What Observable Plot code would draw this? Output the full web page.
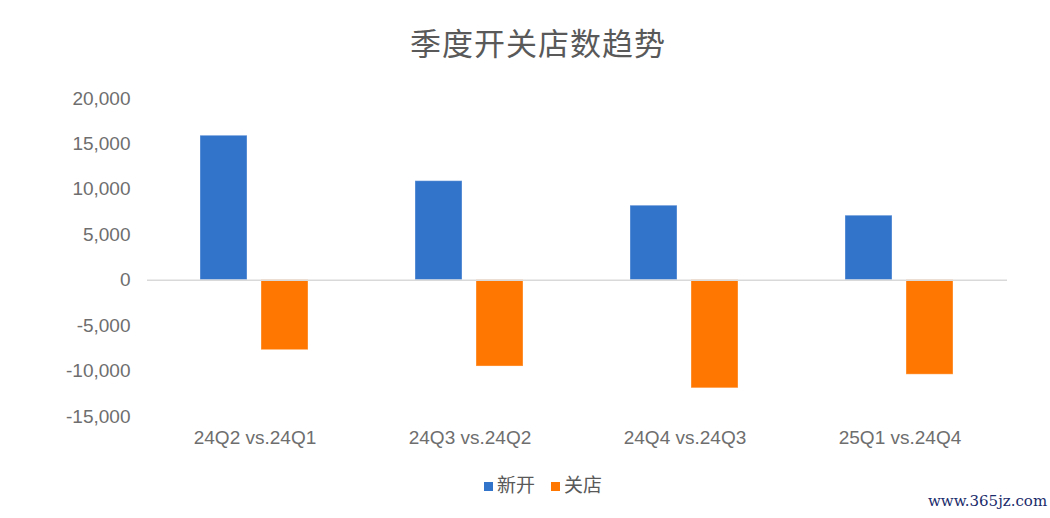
<!DOCTYPE html>
<html>
<head>
<meta charset="utf-8">
<script src="https://cdn.jsdelivr.net/npm/d3@7"></script>
<script src="https://cdn.jsdelivr.net/npm/@observablehq/plot@0.6"></script>
<style>
  html, body { margin: 0; padding: 0; background: #fff; }
  #wrap { position: relative; width: 1050px; height: 518px; overflow: hidden; font-family: "Noto Sans CJK SC", "Liberation Sans", sans-serif; }
  #title { position: absolute; left: 0; width: 1076px; top: 22px; text-align: center; font-size: 31px; color: #595959; letter-spacing: 1px; line-height: 40px; }
  #chart { position: absolute; left: 0; top: 0; }
  #legend { position: absolute; left: 0; width: 1086px; top: 471px; text-align: center; font-size: 19px; color: #595959; line-height: 26px; }
  #legend .sw { display: inline-block; width: 9px; height: 9px; margin-right: 4px; vertical-align: 1px; }
  #legend .item { margin: 0 8px; }
  #wm { position: absolute; left: 928px; top: 492px; font-family: "DejaVu Serif", serif; font-size: 15px; color: #1b2b6b; letter-spacing: 0px; }
</style>
</head>
<body>
<div id="wrap">
  <div id="chart"></div>
  <div id="title">季度开关店数趋势</div>
  <div id="legend"></div>
  <div id="wm">www.365jz.com</div>
</div>
<script>
const categories = ["24Q2 vs.24Q1", "24Q3 vs.24Q2", "24Q4 vs.24Q3", "25Q1 vs.24Q4"];
const seriesNames = ["新开", "关店"];
const openValues = [15900, 10900, 8200, 7100];
const closeValues = [-7700, -9500, -11900, -10400];
const yTicks = [-15000, -10000, -5000, 0, 5000, 10000, 15000, 20000];
const colors = ["#3374CB", "#FF7700"];

const data = [];
categories.forEach((c, i) => {
  data.push({category: c, series: seriesNames[0], value: openValues[i]});
  data.push({category: c, series: seriesNames[1], value: closeValues[i]});
});

const chart = Plot.plot({
  width: 1050,
  height: 518,
  marginLeft: 147,
  marginRight: 43,
  marginTop: 98,
  marginBottom: 102,
  style: {fontFamily: "'Liberation Sans', 'Noto Sans', sans-serif", background: "transparent"},
  fx: {domain: categories, padding: 0, label: null},
  x: {domain: seriesNames, paddingInner: 0.226, paddingOuter: 0.85, axis: null},
  y: {domain: [-15000, 20000], label: null},
  color: {domain: seriesNames, range: colors},
  marks: [
    Plot.axisY({ticks: yTicks, tickSize: 0, tickPadding: 17, tickFormat: d => d.toLocaleString("en-US"), fontSize: 19, fill: "#6e6e6e", label: null}),
    Plot.axisFx({anchor: "bottom", tickSize: 0, tickPadding: 14, fontSize: 19, fill: "#6e6e6e", label: null}),
    Plot.barY(data, {fx: "category", x: "series", y: "value", fill: "series", stroke: "#ffffff", strokeOpacity: 0.35, strokeWidth: 1}),
    Plot.ruleY([0], {stroke: "#d9d9d9", strokeWidth: 1.5})
  ]
});
document.getElementById("chart").appendChild(chart);

const legend = document.getElementById("legend");
seriesNames.forEach((s, i) => {
  const span = document.createElement("span");
  span.className = "item";
  const sw = document.createElement("span");
  sw.className = "sw";
  sw.style.background = colors[i];
  span.appendChild(sw);
  span.appendChild(document.createTextNode(s));
  legend.appendChild(span);
});
</script>
</body>
</html>
